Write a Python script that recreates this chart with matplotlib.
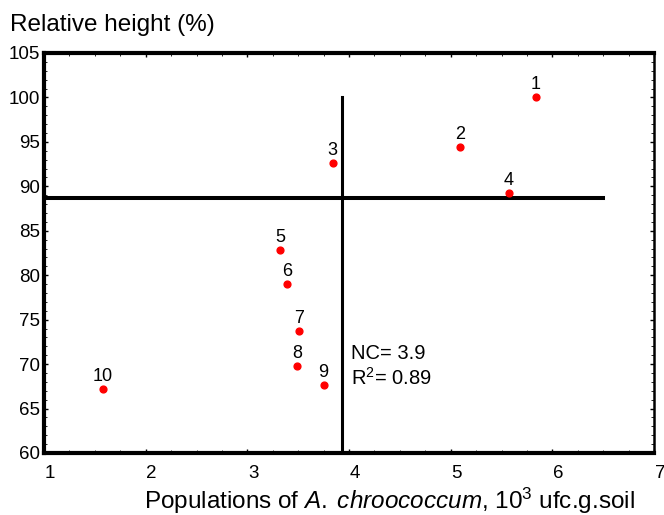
import matplotlib.pyplot as plt
import matplotlib.transforms as mtransforms
from matplotlib.ticker import MultipleLocator

plt.rcParams['font.family'] = ['Liberation Sans', 'DejaVu Sans']
plt.rcParams['mathtext.fontset'] = 'custom'
plt.rcParams['mathtext.rm'] = 'Liberation Sans'
plt.rcParams['mathtext.it'] = 'Liberation Sans:italic'

# data
labels = ['1', '2', '3', '4', '5', '6', '7', '8', '9', '10']
population = [5.84, 5.09, 3.84, 5.57, 3.32, 3.39, 3.51, 3.49, 3.75, 1.58]
rel_height = [100.0, 94.4, 92.6, 89.25, 82.8, 79.0, 73.7, 69.8, 67.65, 67.2]

nc_value = 3.9
r2_value = 0.89
nc_line_x = 3.93   # where the vertical line is actually drawn
h_line = 88.7
h_line_end = 6.5
v_line_top = 100.0

fig = plt.figure(figsize=(6.64, 5.15), dpi=100)
ax = fig.add_axes([0.0663, 0.1204, 0.9187, 0.7767])

# critical level lines
ax.plot([nc_line_x, nc_line_x], [60, v_line_top], color='black', lw=2.2)
ax.plot([1, h_line_end], [h_line, h_line], color='black', lw=2.9)

# points with their numbers
ax.scatter(population, rel_height, s=24, color='#ff0000', zorder=3)
for lab, x, y in zip(labels, population, rel_height):
    ax.annotate(lab, (x, y), xytext=(0, 3), textcoords='offset points',
                ha='center', va='bottom', fontsize=13)

ax.text(4.02, 71.2, 'NC= %.1f' % nc_value, fontsize=14.5, va='center')
ax.text(4.02, 68.4, 'R$^{2}$= %.2f' % r2_value, fontsize=14.5, va='center')

ax.set_xlim(1, 7)
ax.set_ylim(60, 105)
ax.xaxis.set_major_locator(MultipleLocator(1))
ax.xaxis.set_minor_locator(MultipleLocator(0.25))
ax.yaxis.set_major_locator(MultipleLocator(5))
ax.yaxis.set_minor_locator(MultipleLocator(1))
ax.tick_params(which='both', direction='in', top=True, right=True,
               labelsize=13.5)
ax.tick_params(axis='y', pad=3)
ax.tick_params(axis='x', pad=9)
ax.tick_params(which='major', length=3, width=1)
ax.tick_params(which='minor', length=2, width=0.6)

# x tick labels sit a little right of their ticks in the original
shift = mtransforms.ScaledTranslation(6 / 100, 0, fig.dpi_scale_trans)
for lbl in ax.get_xticklabels():
    lbl.set_transform(lbl.get_transform() + shift)

for side in ['left', 'top', 'bottom']:
    ax.spines[side].set_linewidth(3)
ax.spines['right'].set_linewidth(1.8)

fig.text(0.015, 0.951, 'Relative height (%)', fontsize=17.5, va='center')
fig.text(0.587, 0.028,
         r'Populations of $\mathit{A.\;chroococcum}$, 10$^{3}$ ufc.g.soil',
         fontsize=17.5, ha='center', va='center')

fig.savefig('out.png', dpi=100)
